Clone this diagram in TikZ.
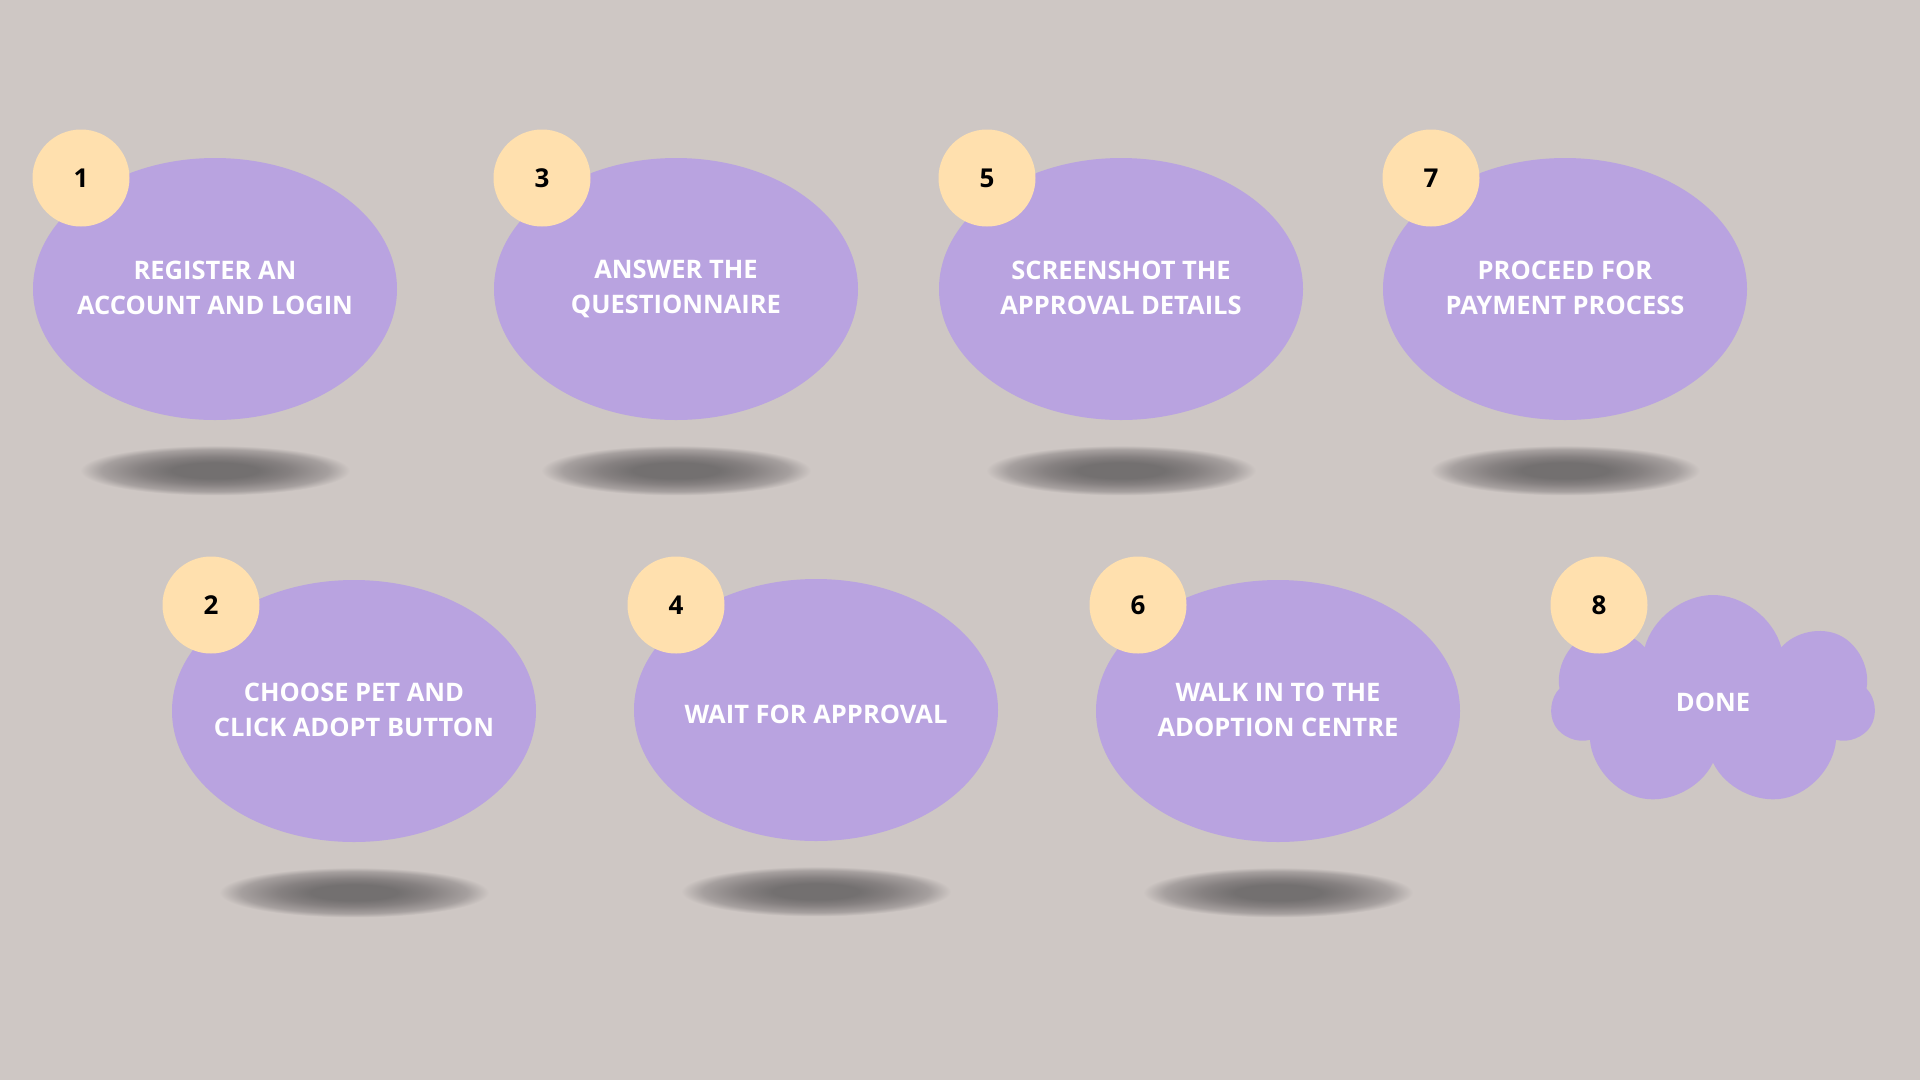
\documentclass[tikz,border=0pt]{standalone}
\usepackage{fontspec}
\setmainfont{Open Sans}
\usepackage{tikz}
\usetikzlibrary{positioning,shapes.geometric,shapes.symbols}

\definecolor{bgcol}{HTML}{CEC7C4}
\definecolor{stepfill}{HTML}{B9A3E0}
\definecolor{badgefill}{HTML}{FFE0AE}
\definecolor{shadowcol}{HTML}{737070}
\definecolor{shadowmid}{HTML}{868181}
\definecolor{shadowrim}{HTML}{A6A09F}
\pgfdeclareradialshading{floorshadow}{\pgfpoint{0bp}{0bp}}{color(0bp)=(shadowcol); color(8bp)=(shadowcol); color(14bp)=(shadowmid); color(21bp)=(shadowrim); color(25bp)=(bgcol); color(50bp)=(bgcol)}

\begin{document}
\begin{tikzpicture}[
    x=1pt, y=-1pt,
    node distance=25pt,
    stepnode/.style={ellipse, fill=stepfill, text=white, align=center, inner sep=0pt, inner xsep=-40pt, minimum width=364pt, minimum height=262pt, font=\fontsize{25.5}{35}\selectfont\bfseries, execute at begin node={\rule{0pt}{28pt}}, execute at end node={\rule[-2pt]{0pt}{0pt}}},
    badge/.style={circle, fill=badgefill, text=black, inner sep=0pt, minimum size=97pt, font=\fontsize{26}{30}\selectfont\bfseries},
    floor/.style={ellipse, shade, shading=floorshadow, inner sep=0pt, minimum width=270pt, minimum height=50pt},
    finish/.style={cloud, cloud puffs=7, cloud puff arc=150, aspect=1.5, fill=stepfill, text=white, inner sep=0pt, minimum width=324pt, minimum height=214pt, font=\fontsize{25.5}{35}\selectfont\bfseries}
]
\useasboundingbox[fill=bgcol] (0,0) rectangle (1920,1080);

% top row
\node[stepnode] (register) at (215,289) {REGISTER AN\\ACCOUNT AND LOGIN};
\node[stepnode] (answer) at (676,289) {ANSWER THE\\QUESTIONNAIRE};
\node[stepnode] (screenshot) at (1121,289) {SCREENSHOT THE\\APPROVAL DETAILS};
\node[stepnode] (payment) at (1565,289) {PROCEED FOR\\PAYMENT PROCESS};

% bottom row
\node[stepnode] (choose) at (354,711) {CHOOSE PET AND\\CLICK ADOPT BUTTON};
\node[stepnode] (wait) at (816,710) {WAIT FOR APPROVAL};
\node[stepnode] (walkin) at (1278,711) {WALK IN TO THE\\ADOPTION CENTRE};
\node[finish] (done) at (1713,702) {DONE};

% shadows under the steps
\node[floor, below=of register] (sh1) {};
\node[floor, below=of answer] (sh3) {};
\node[floor, below=of screenshot] (sh5) {};
\node[floor, below=of payment] (sh7) {};
\node[floor, below=of choose] (sh2) {};
\node[floor, below=of wait] (sh4) {};
\node[floor, below=of walkin] (sh6) {};

% step numbers
\node[badge] (n1) at (81,178) {1};
\node[badge] (n3) at (542,178) {3};
\node[badge] (n5) at (987,178) {5};
\node[badge] (n7) at (1431,178) {7};
\node[badge] (n2) at (211,605) {2};
\node[badge] (n4) at (676,605) {4};
\node[badge] (n6) at (1138,605) {6};
\node[badge] (n8) at (1599,605) {8};
\end{tikzpicture}
\end{document}
